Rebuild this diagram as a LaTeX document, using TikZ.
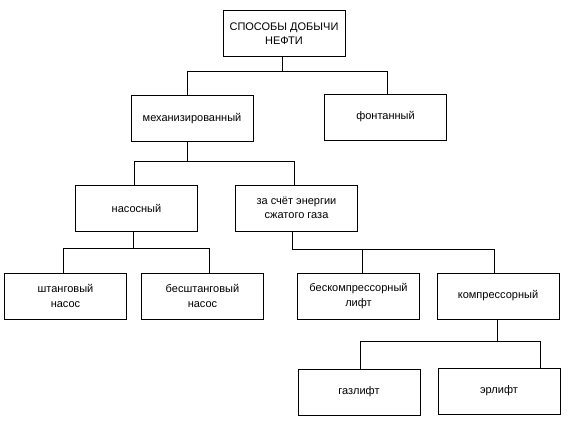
\documentclass[tikz,border=0pt]{standalone}
\usepackage{fontspec}
\setmainfont{Liberation Sans}

\begin{document}
\begin{tikzpicture}[x=1pt, y=-1pt, line width=0.9pt,
    box/.style={draw, minimum width=122pt, minimum height=46pt, align=center,
        font=\fontsize{11}{14.5}\selectfont, inner sep=1pt}]
    \useasboundingbox (0,0) rectangle (570,433);
    % boxes
    \node[box] (top) at (284,33.5) {СПОСОБЫ ДОБЫЧИ\\НЕФТИ};
    \node[box] (mech) at (192,118.5) {механизированный};
    \node[box] (font) at (385.5,117) {фонтанный};
    \node[box] (pump) at (136.5,208) {насосный};
    \node[box] (gas) at (296.5,208) {за счёт энергии\\сжатого газа};
    \node[box] (rod) at (65.5,296) {штанговый\\насос};
    \node[box] (rodless) at (202.5,296) {бесштанговый\\насос};
    \node[box] (nocomp) at (358.5,296) {бескомпрессорный\\лифт};
    \node[box] (comp) at (498,296) {компрессорный};
    \node[box] (gaslift) at (359,392) {газлифт};
    \node[box] (airlift) at (499,391) {эрлифт};
    % connectors
    \draw ([xshift=-2pt]top.south) -- ++(0,15) -| ([xshift=-5pt]mech.north);
    \draw ([xshift=-2pt]top.south) -- ++(0,15) -| ([xshift=1.5pt]font.north);
    \draw ([xshift=-5pt]mech.south) -- ++(0,19) -| ([xshift=-2.5pt]pump.north);
    \draw ([xshift=-5pt]mech.south) -- ++(0,19) -| ([xshift=-2.5pt]gas.north);
    \draw ([xshift=-3.5pt]pump.south) -- ++(0,17) -| ([xshift=-2.5pt]rod.north);
    \draw ([xshift=-3.5pt]pump.south) -- ++(0,17) -| ([xshift=6.5pt]rodless.north);
    \draw ([xshift=-4.5pt]gas.south) -- ++(0,18) -| ([xshift=3.5pt]nocomp.north);
    \draw ([xshift=-4.5pt]gas.south) -- ++(0,18) -| ([xshift=-4pt]comp.north);
    \draw ([xshift=-1pt]comp.south) -- ++(0,22) -| ([xshift=1pt]gaslift.north);
    \draw ([xshift=-1pt]comp.south) -- ++(0,22) -| ([xshift=41pt]airlift.north);
\end{tikzpicture}
\end{document}
